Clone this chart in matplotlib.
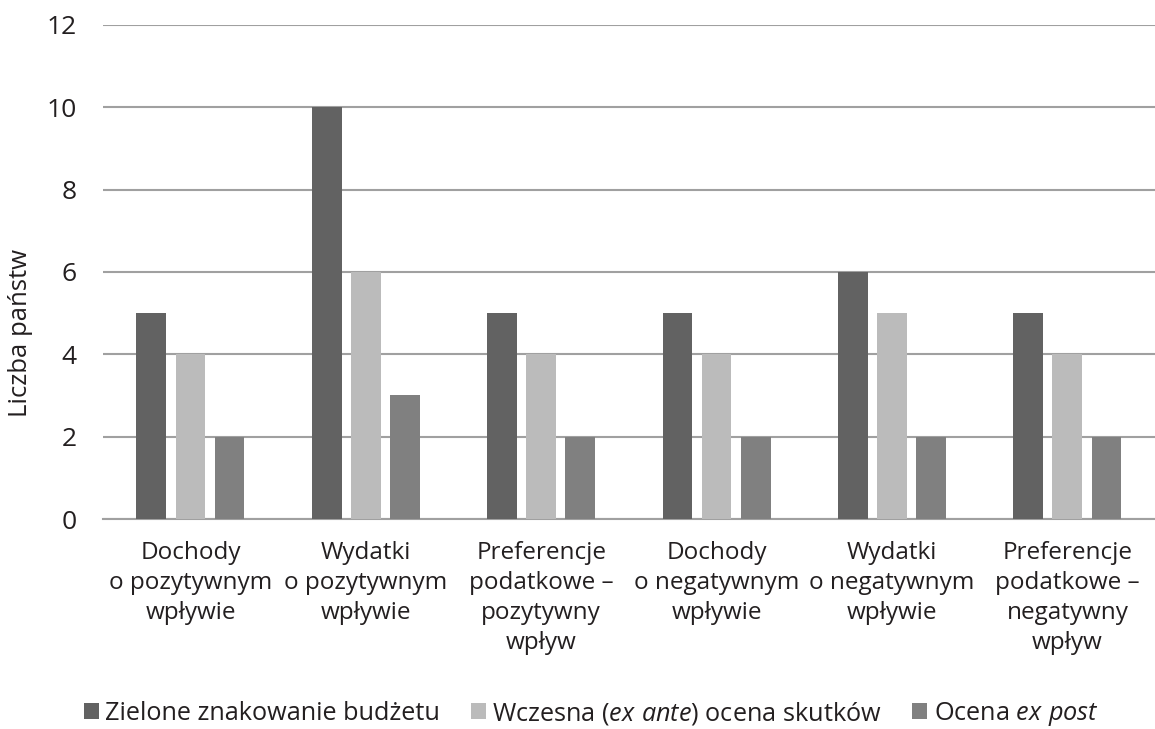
import matplotlib
matplotlib.use("Agg")
import matplotlib.pyplot as plt
import numpy as np

plt.rcParams['font.family'] = ['Open Sans', 'DejaVu Sans']
plt.rcParams['mathtext.fontset'] = 'custom'
plt.rcParams['mathtext.it'] = 'Open Sans:italic'
plt.rcParams['mathtext.rm'] = 'Open Sans'

categories = ["Dochody\no pozytywnym\nwpływie",
              "Wydatki\no pozytywnym\nwpływie",
              "Preferencje\npodatkowe –\npozytywny\nwpływ",
              "Dochody\no negatywnym\nwpływie",
              "Wydatki\no negatywnym\nwpływie",
              "Preferencje\npodatkowe –\nnegatywny\nwpływ"]
zielone = [5, 10, 5, 5, 6, 5]
ex_ante = [4, 6, 4, 4, 5, 4]
ex_post = [2, 3, 2, 2, 2, 2]
series_names = ["Zielone znakowanie budżetu",
                r"Wczesna ($\it{ex\ ante}$) ocena skutków",
                r"Ocena $\it{ex\ post}$"]
colors = ["#626262", "#bbbbbb", "#808080"]
txt = "#231f20"

fig = plt.figure(figsize=(11.55, 7.29), dpi=100)
ax = fig.add_axes([0.089, 0.288, 0.911, 0.678])

x = np.arange(len(categories))
w = 0.17
step = 0.223
for i, (vals, name, c) in enumerate(zip([zielone, ex_ante, ex_post], series_names, colors)):
    ax.bar(x + (i - 1) * step, vals, width=w, color=c, label=name, zorder=3)

ax.set_xlim(-0.5, len(categories) - 0.5)
ax.set_ylim(0, 12)
ax.set_yticks(range(0, 13, 2))
ax.yaxis.grid(True, color="#a0a0a0", linewidth=1.5, zorder=0)
ax.set_axisbelow(True)
for s in ["top", "right", "left"]:
    ax.spines[s].set_visible(False)
ax.spines["bottom"].set_color("#a0a0a0")
ax.spines["bottom"].set_linewidth(1.5)
ax.tick_params(axis="y", length=0, labelsize=19, colors=txt, pad=19)
ax.tick_params(axis="x", length=0, labelsize=17.5, colors=txt, pad=16)
ax.set_xticks(x)
ax.set_xticklabels(categories, linespacing=1.33)
ax.set_ylabel("Liczba państw", fontsize=18.5, color=txt)
ax.yaxis.set_label_coords(-0.066, 0.377)

fig.legend(loc="lower left", bbox_to_anchor=(0.053, -0.03), ncol=3, frameon=False,
           fontsize=18.2, handlelength=0.6, handleheight=0.6, handletextpad=0.25,
           columnspacing=1.2, labelcolor=txt)

fig.savefig("out.png", dpi=100)
